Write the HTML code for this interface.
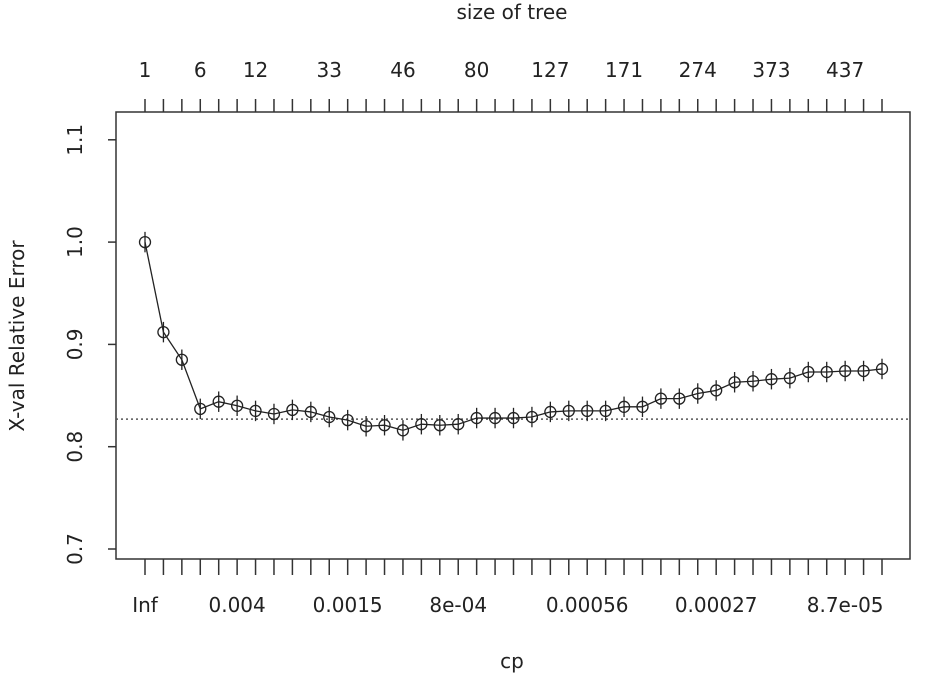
<!DOCTYPE html>
<html><head><meta charset="utf-8"><style>
html,body{margin:0;padding:0;background:#fff;}
svg text{font-family:"DejaVu Sans","Liberation Sans",sans-serif;fill:#222;}
</style></head><body>
<svg id="chart" width="926" height="684" viewBox="0 0 926 684" xmlns="http://www.w3.org/2000/svg">
<rect x="116" y="112" width="794" height="447" fill="none" stroke="#333" stroke-width="1.5"/>
<text x="512" y="19" font-size="20" text-anchor="middle">size of tree</text>
<text x="512" y="668" font-size="20" text-anchor="middle">cp</text>
<text transform="translate(24,336) rotate(-90)" font-size="20" text-anchor="middle">X-val Relative Error</text>
<g id="g"></g>
</svg>
<script>
const xerr = [1.000,0.912,0.885,0.837,0.844,0.840,0.835,0.832,0.836,0.834,0.829,0.826,0.820,0.821,0.816,0.822,0.821,0.822,0.828,0.828,0.828,0.829,0.834,0.835,0.835,0.835,0.839,0.839,0.847,0.847,0.852,0.855,0.863,0.864,0.866,0.867,0.873,0.873,0.874,0.874,0.876];
const xstd = [0.010,0.010,0.010,0.010,0.010,0.010,0.010,0.010,0.010,0.010,0.010,0.010,0.010,0.010,0.010,0.010,0.010,0.010,0.010,0.010,0.010,0.010,0.010,0.010,0.010,0.010,0.010,0.010,0.010,0.010,0.010,0.010,0.010,0.010,0.010,0.010,0.010,0.010,0.010,0.010,0.010];
const sizeIdx = [0,3,6,10,14,18,22,26,30,34,38];
const sizeLabels = ["1","6","12","33","46","80","127","171","274","373","437"];
const cpIdx = [0,5,11,17,24,31,38];
const cpLabels = ["Inf","0.004","0.0015","8e-04","0.00056","0.00027","8.7e-05"];
const yTicks = [0.7,0.8,0.9,1.0,1.1];
const yTickLabels = ["0.7","0.8","0.9","1.0","1.1"];
const threshold = 0.827;

const NS="http://www.w3.org/2000/svg";
const g=document.getElementById('g');
const n=xerr.length;
const xs=i=>145+i*(882-145)/(n-1);
const ys=v=>549-(v-0.7)*1023;
function mk(t,a){const e=document.createElementNS(NS,t);for(const k in a)e.setAttribute(k,a[k]);g.appendChild(e);return e;}

yTicks.forEach((v,i)=>{
  const t=mk('line',{x1:108,x2:116,y1:ys(v),y2:ys(v),stroke:'#333','stroke-width':1.5});
  
  
  const l=mk('text',{transform:`translate(82,${ys(v)}) rotate(-90)`,'font-size':20,'text-anchor':'middle'});
  l.textContent=yTickLabels[i];
  
  
});
for(let i=0;i<n;i++){
  const a=mk('line',{x1:xs(i),x2:xs(i),y1:99,y2:112,stroke:'#333','stroke-width':1.5});
  
  
  const b=mk('line',{x1:xs(i),x2:xs(i),y1:559,y2:575,stroke:'#333','stroke-width':1.5});
  
  
}
sizeIdx.forEach((k,i)=>{
  const l=mk('text',{x:xs(k),y:77,'font-size':20,'text-anchor':'middle'});
  l.textContent=sizeLabels[i];
  
  
});
cpIdx.forEach((k,i)=>{
  const l=mk('text',{x:xs(k),y:612,'font-size':20,'text-anchor':'middle'});
  l.textContent=cpLabels[i];
  
  
});
const h=mk('line',{x1:116,x2:910,y1:ys(threshold),y2:ys(threshold),stroke:'#555','stroke-width':1.5,'stroke-dasharray':'2,3'});


const p=mk('polyline',{points:xerr.map((v,i)=>xs(i)+','+ys(v)).join(' '),fill:'none',stroke:'#222','stroke-width':1.3});


xerr.forEach((v,i)=>{
  const e=mk('line',{x1:xs(i),x2:xs(i),y1:ys(v+xstd[i]),y2:ys(v-xstd[i]),stroke:'#222','stroke-width':1.3});
  
  
  const c=mk('circle',{cx:xs(i),cy:ys(v),r:5.5,fill:'none',stroke:'#222','stroke-width':1.3});
  
  
});
</script>
</body></html>
